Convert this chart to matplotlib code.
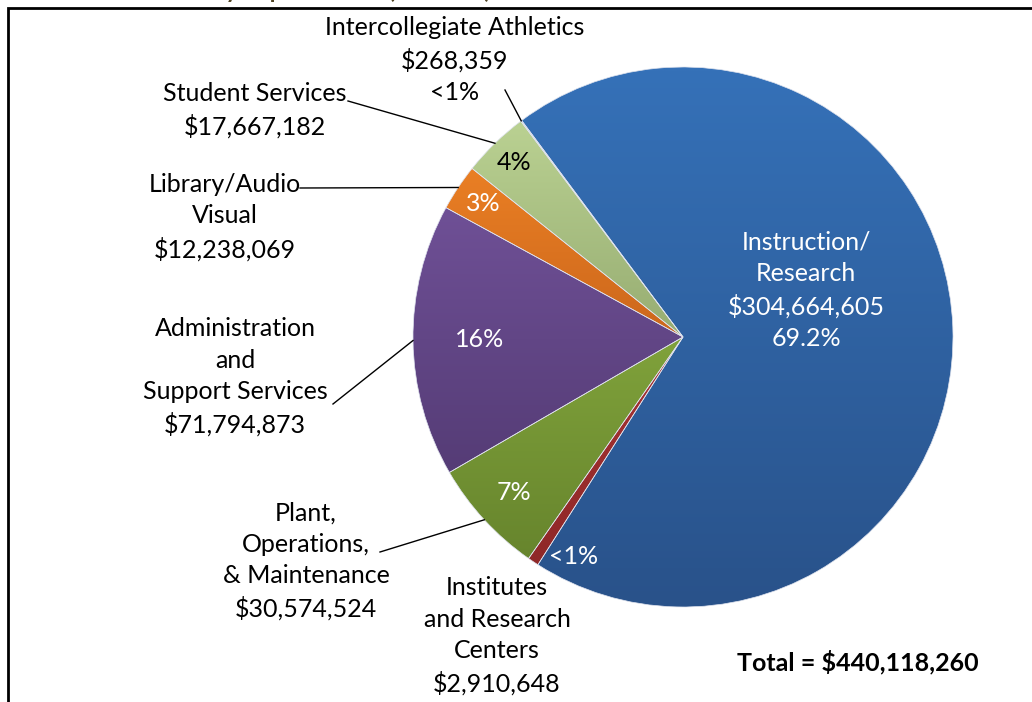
import numpy as np
import matplotlib
matplotlib.use("Agg")
import matplotlib.pyplot as plt
from matplotlib.colors import to_rgb

# Data
categories = ["Instruction/\nResearch", "Institutes\nand Research\nCenters",
              "Plant,\nOperations,\n& Maintenance", "Administration\nand\nSupport Services",
              "Library/Audio\nVisual", "Student Services", "Intercollegiate Athletics"]
amounts = [304664605, 2910648, 30574524, 71794873, 12238069, 17667182, 268359]
top_colors = ["#3571b8", "#a83333", "#80a23b", "#6f5096", "#ea7f24", "#bad192", "#9fb4da"]
bottom_colors = ["#29528a", "#8f2828", "#67852d", "#553c76", "#cc671c", "#97ad72", "#7f97c2"]
total = sum(amounts)

W, H = 1032, 702
fig = plt.figure(figsize=(W / 100, H / 100), dpi=100)
ax = fig.add_axes([0, 0, 1, 1])

plt.rcParams["font.family"] = ["Lato", "DejaVu Sans"]
FS = 18
LS = 1.45

cx, cy, R = 683, H - 337, 270
wedges, _ = ax.pie(amounts, center=(cx, cy), radius=R, startangle=126.7,
                   counterclock=False, colors=top_colors, frame=True,
                   wedgeprops=dict(linewidth=0))

# vertical gradient fill per slice (light top, dark bottom)
for w, c1, c2 in zip(wedges, top_colors, bottom_colors):
    ext = w.get_path().get_extents()
    t = np.linspace(0, 1, 64)[:, None]
    grad = (1 - t) * np.array(to_rgb(c1)) + t * np.array(to_rgb(c2))
    grad = grad[:, None, :].repeat(2, axis=1)
    im = ax.imshow(grad, extent=[ext.x0, ext.x1, ext.y0, ext.y1], origin="upper",
                   aspect="auto", interpolation="bilinear", zorder=1)
    im.set_clip_path(w)
    w.set_facecolor("none")
    w.set_edgecolor("#dfe3ee")
    w.set_linewidth(0.5)
    w.set_zorder(2)
ax.set_xlim(0, W)
ax.set_ylim(0, H)
ax.set_aspect("auto")
ax.axis("off")


def mid_angle(w):
    return np.deg2rad((w.theta1 + w.theta2) / 2)


def pct_text(v):
    p = v / total * 100
    return "<1%" if p < 1 else f"{p:.0f}%"


# in-slice labels: index -> (radius fraction, colour)
inside = {2: (0.85, "white"), 3: (0.755, "white"), 4: (0.89, "white"), 5: (0.9, "black")}
for i, (frac, col) in inside.items():
    a = mid_angle(wedges[i])
    ax.text(cx + R * frac * np.cos(a), cy + R * frac * np.sin(a), pct_text(amounts[i]),
            color=col, fontsize=FS, ha="center", va="center", zorder=5)
# tiny red slice: label sits just inside the blue, beside it
ax.text(574, H - 557, pct_text(amounts[1]), color="white", fontsize=FS,
        ha="center", va="center", zorder=5)

ax.text(806, H - 290, f"{categories[0]}\n${amounts[0]:,}\n{amounts[0] / total * 100:.1f}%",
        color="white", fontsize=FS, ha="center", va="center", linespacing=LS, zorder=5)

# outside labels with leader lines: (index, text center, line start, text)
outside = [
    (6, (455, 60), (505, 90), f"{categories[6]}\n${amounts[6]:,}\n{pct_text(amounts[6])}"),
    (5, (255, 110), (348, 101), f"{categories[5]}\n${amounts[5]:,}"),
    (4, (225, 217), (300, 188), f"{categories[4]}\n${amounts[4]:,}"),
    (3, (235, 377), (333, 404), f"{categories[3]}\n${amounts[3]:,}"),
    (2, (306, 561), (380, 552), f"{categories[2]}\n${amounts[2]:,}"),
    (1, (497, 636), None, f"{categories[1]}\n${amounts[1]:,}"),
]
for i, (tx, ty), start, label in outside:
    ax.text(tx, H - ty, label, fontsize=FS, ha="center", va="center",
            linespacing=LS, zorder=5)
    if start is not None:
        a = mid_angle(wedges[i])
        ex, ey = cx + R * np.cos(a), cy + R * np.sin(a)
        ax.plot([start[0], ex], [H - start[1], ey], color="black", lw=1, zorder=4)

ax.text(858, H - 662, f"Total = ${total:,}", fontsize=FS, fontweight="bold",
        ha="center", va="center", zorder=5)

# frame and title (cut off by the top edge, as in the source)
ax.plot([8, 8, W + 5], [-5, H - 8, H - 8], color="black", lw=2, zorder=6,
        solid_joinstyle="miter", clip_on=False)
ax.text(212, H + 2, "by Expenditures (FY 2011)", fontsize=17,
        fontweight="bold", color="#4f4323", ha="left", va="baseline", zorder=5)

fig.savefig("out.png", dpi=100)
